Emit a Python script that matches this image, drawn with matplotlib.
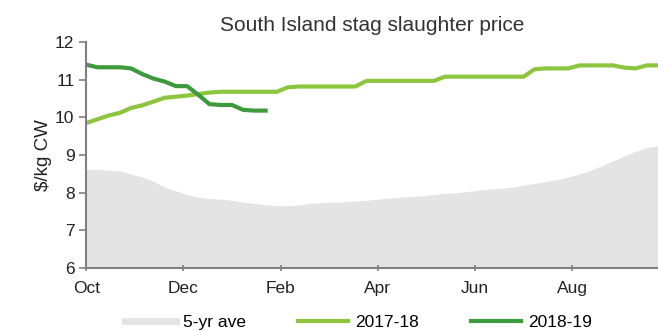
import matplotlib.pyplot as plt
import numpy as np
from matplotlib.lines import Line2D

plt.rcParams['font.family'] = ['Liberation Sans', 'DejaVu Sans']

# weekly prices ($/kg CW), season starting in October
ave_5yr = [8.62, 8.62, 8.60, 8.58, 8.50, 8.42, 8.30, 8.15, 8.05, 7.95, 7.88, 7.85, 7.83,
           7.80, 7.75, 7.72, 7.68, 7.66, 7.66, 7.68, 7.72, 7.74, 7.75, 7.76, 7.78, 7.80,
           7.83, 7.86, 7.88, 7.90, 7.92, 7.95, 7.98, 8.00, 8.03, 8.07, 8.10, 8.12, 8.15,
           8.20, 8.25, 8.30, 8.35, 8.42, 8.50, 8.60, 8.72, 8.85, 8.98, 9.10, 9.20, 9.25]
s2017_18 = [9.85, 9.95, 10.05, 10.12, 10.25, 10.32, 10.42, 10.52, 10.55, 10.58, 10.62, 10.66,
            10.68, 10.68, 10.68, 10.68, 10.68, 10.68, 10.80, 10.82, 10.82, 10.82, 10.82, 10.82,
            10.82, 10.97, 10.97, 10.97, 10.97, 10.97, 10.97, 10.97, 11.08, 11.08, 11.08, 11.08,
            11.08, 11.08, 11.08, 11.08, 11.28, 11.30, 11.30, 11.30, 11.38, 11.38, 11.38, 11.38,
            11.32, 11.30, 11.38, 11.38]
s2018_19 = [11.40, 11.33, 11.33, 11.33, 11.30, 11.15, 11.03, 10.95, 10.83, 10.83, 10.60,
            10.35, 10.33, 10.33, 10.20, 10.18, 10.18]
month_labels = ['Oct', 'Dec', 'Feb', 'Apr', 'Jun', 'Aug']

def week_to_month(n):
    return np.arange(n) * 12 / 52

fig = plt.figure(figsize=(6.58, 3.31), dpi=100)
ax = fig.add_axes([0.131, 0.19, 0.869, 0.683])

x_ave = week_to_month(len(ave_5yr))
ax.fill_between(x_ave, 6, ave_5yr, color='#e4e4e4', lw=0)
ax.plot(week_to_month(len(s2017_18)), s2017_18, color='#8cc63f', lw=3)
ax.plot(week_to_month(len(s2018_19)), s2018_19, color='#3d9a3d', lw=3)

ax.set_xlim(0, x_ave[-1])
ax.set_ylim(6, 12)
ax.set_yticks(range(6, 13))
ax.set_xticks(range(0, 12, 2))
ax.set_xticklabels(month_labels)
ax.tick_params(labelsize=12.5, colors='#808080', labelcolor='#222222', length=5, width=1.2)
ax.tick_params(axis='x', direction='inout', length=5, pad=7)
for s in ['top', 'right']:
    ax.spines[s].set_visible(False)
for s in ['left', 'bottom']:
    ax.spines[s].set_color('#808080')
    ax.spines[s].set_linewidth(1.5)

ax.set_ylabel('$/kg CW', fontsize=13.5, color='#222222', labelpad=2)
ax.set_title('South Island stag slaughter price', fontsize=15, color='#333333', pad=8)

handles = [Line2D([], [], color='#e4e4e4', lw=5, label='5-yr ave'),
           Line2D([], [], color='#8cc63f', lw=3, label='2017-18'),
           Line2D([], [], color='#3d9a3d', lw=3, label='2018-19')]
fig.legend(handles=handles, loc='lower center', bbox_to_anchor=(0.545, -0.045), ncol=3,
           frameon=False, fontsize=12.5, handlelength=2.9,
           columnspacing=3.0, handletextpad=0.4)

fig.savefig('out.png', dpi=100)
